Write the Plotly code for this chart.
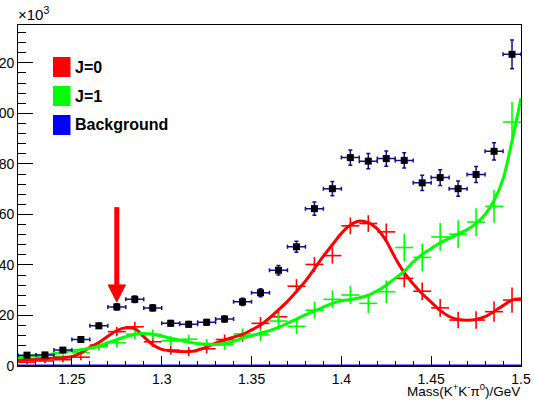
import plotly.graph_objects as go

# ---- data ----
BIN_CENTERS = [round(1.225 + 0.01 * i, 3) for i in range(28)]
BIN_HALF_WIDTH = 0.005

DATA_Y = [4.3, 4.4, 6.3, 10.5, 15.9, 23.4, 26.4, 23.0, 16.9, 16.5, 17.3, 18.6, 25.4, 29.0,
          37.9, 47.2, 62.3, 70.2, 82.5, 81.1, 82.1, 81.4, 72.5, 74.6, 70.2, 75.8, 85.0, 123.4]
DATA_ERR = [0.6, 0.6, 0.7, 0.9, 1.0, 1.2, 1.3, 1.2, 1.1, 1.1, 1.1, 1.2, 1.4, 1.6,
            1.9, 2.2, 2.6, 2.8, 3.0, 3.0, 3.0, 3.0, 3.0, 3.1, 3.0, 3.2, 3.4, 5.7]

J0_Y = [1.5, 2.0, 2.5, 3.5, 8.3, 13.6, 15.5, 9.6, 6.3, 5.7, 6.8, 10.5, 11.8, 16.9,
        19.5, 31.6, 40.2, 43.7, 55.5, 56.4, 53.1, 34.7, 29.6, 23.0, 18.2, 18.2, 21.5, 26.1]
J0_ERR = [0.8, 0.9, 1.0, 1.2, 1.5, 1.8, 2.0, 2.0, 1.8, 1.8, 1.8, 2.0, 2.2, 2.5,
          2.5, 2.8, 3.0, 3.2, 3.3, 3.3, 3.3, 3.5, 3.5, 3.5, 3.3, 3.5, 4.0, 5.0]

J1_Y = [2.8, 3.2, 3.8, 5.3, 7.6, 9.2, 12.6, 12.5, 10.0, 10.6, 8.9, 8.4, 12.7, 12.3,
        17.8, 15.7, 22.1, 26.4, 28.1, 24.8, 29.4, 46.9, 43.0, 51.1, 52.2, 57.0, 63.2, 96.6]
J1_ERR = [0.8, 0.9, 1.0, 1.2, 1.5, 1.8, 2.0, 2.0, 1.8, 1.8, 1.8, 2.0, 2.2, 2.5,
          3.0, 3.0, 3.3, 3.5, 3.5, 3.8, 4.5, 5.5, 5.5, 5.5, 5.5, 5.5, 6.5, 8.0]

CURVE_X = [round(1.22 + 0.005 * i, 3) for i in range(57)]
J0_CURVE = [2.2, 2.4, 2.6, 2.9, 3.1, 3.3, 3.7, 5.2, 7.4, 9.3, 11.8, 14.0, 15.1, 14.8, 11.6,
            8.4, 6.6, 6.0, 5.7, 5.7, 6.3, 7.5, 9.0, 10.3, 11.4, 12.5, 14.3, 16.2, 19.0,
            22.2, 25.6, 29.5, 33.6, 38.5, 43.5, 48.0, 52.5, 55.8, 57.4, 56.8, 54.3, 49.5,
            42.8, 37.0, 32.5, 28.6, 25.3, 22.0, 19.6, 18.4, 18.1, 18.4, 19.5, 21.6,
            23.9, 26.1, 26.6]
J1_CURVE = [3.5, 3.8, 4.1, 4.4, 4.9, 5.5, 6.0, 6.4, 7.0, 7.9, 9.2, 10.5, 11.6, 12.6, 12.9,
            12.6, 11.9, 11.0, 10.2, 9.5, 8.9, 8.5, 8.5, 8.9, 9.8, 11.0, 12.0, 13.0, 14.0,
            15.3, 17.0, 18.6, 20.3, 21.8, 23.3, 24.8, 25.8, 26.3, 27.0, 28.0, 29.8, 32.0,
            34.8, 37.5, 41.2, 44.2, 46.5, 48.8, 50.5, 52.3, 54.0, 56.5, 60.0, 65.5, 74.0,
            89.0, 106.0]
BKG_X = [1.22, 1.50]
BKG_Y = [0.0, 0.0]

ARROW_X = 1.275
ARROW_TOP = 62.9
ARROW_BASE = 32.1
ARROW_TIP = 25.3
ARROW_HALF = 0.0048

LEGEND_LABELS = ["J=0", "J=1", "Background"]
LEGEND_COLORS = ["#ff0000", "#00ff00", "#0000ff"]

X_RANGE = [1.22, 1.50]
Y_RANGE = [0, 135]

# ---- layout geometry (pixels) ----
W, H = 534, 400
L, R, T, B = 18, 13, 25, 34
PW, PH = W - L - R, H - T - B


def px2paper(px, py):
    return (px - L) / PW, 1 - (py - T) / PH


fig = go.Figure()

# red crosses (J=0)
fig.add_trace(go.Scatter(
    x=BIN_CENTERS, y=J0_Y, mode="markers",
    marker=dict(size=1, color="rgba(0,0,0,0)"),
    error_x=dict(type="constant", value=BIN_HALF_WIDTH, color="#ff0000", thickness=1.6, width=0),
    error_y=dict(type="data", array=J0_ERR, color="#ff0000", thickness=1.6, width=0),
))
# green crosses (J=1)
fig.add_trace(go.Scatter(
    x=BIN_CENTERS, y=J1_Y, mode="markers",
    marker=dict(size=1, color="rgba(0,0,0,0)"),
    error_x=dict(type="constant", value=BIN_HALF_WIDTH, color="#00ff00", thickness=1.6, width=0),
    error_y=dict(type="data", array=J1_ERR, color="#00ff00", thickness=1.6, width=0),
))
# fit curves
fig.add_trace(go.Scatter(x=CURVE_X, y=J0_CURVE, mode="lines",
                         line=dict(color="#ff0000", width=3, shape="spline", smoothing=0.8)))
fig.add_trace(go.Scatter(x=CURVE_X, y=J1_CURVE, mode="lines",
                         line=dict(color="#00ff00", width=3, shape="spline", smoothing=0.8)))
fig.add_trace(go.Scatter(x=BKG_X, y=BKG_Y, mode="lines",
                         line=dict(color="#0000ff", width=3), cliponaxis=False))
# data points
fig.add_trace(go.Scatter(
    x=BIN_CENTERS, y=DATA_Y, mode="markers",
    marker=dict(symbol="square", size=7, color="black"),
    error_x=dict(type="constant", value=BIN_HALF_WIDTH, color="#10108f", thickness=1.5, width=2),
    error_y=dict(type="data", array=DATA_ERR, color="#10108f", thickness=1.5, width=2),
))
# arrow
fig.add_trace(go.Scatter(x=[ARROW_X, ARROW_X], y=[ARROW_TOP, ARROW_BASE], mode="lines",
                         line=dict(color="#ff0000", width=5)))
fig.add_trace(go.Scatter(x=[ARROW_X - ARROW_HALF, ARROW_X + ARROW_HALF, ARROW_X, ARROW_X - ARROW_HALF],
                         y=[ARROW_BASE, ARROW_BASE, ARROW_TIP, ARROW_BASE], mode="lines",
                         fill="toself", fillcolor="#ff0000", line=dict(color="#ff0000", width=1)))

# legend (drawn manually)
shapes = []
annotations = []
box_tops = [57, 86, 115]
for lab, col, top in zip(LEGEND_LABELS, LEGEND_COLORS, box_tops):
    x0, y0 = px2paper(53, top + 20)
    x1, y1 = px2paper(70.5, top)
    shapes.append(dict(type="rect", xref="paper", yref="paper", x0=x0, y0=y0, x1=x1, y1=y1,
                       fillcolor=col, line=dict(width=0), layer="above"))
    tx, ty = px2paper(72.5, top + 10)
    annotations.append(dict(text="<b>%s</b>" % lab, xref="paper", yref="paper", x=tx, y=ty,
                            xanchor="left", yanchor="middle", showarrow=False,
                            font=dict(size=16, color="black")))

# x10^3
annotations.append(dict(text="×10<sup>3</sup>", xref="paper", yref="paper", x=0, y=1,
                        xanchor="left", yanchor="bottom", yshift=0, xshift=-2, showarrow=False,
                        font=dict(size=15, color="black")))
# x axis title
tx, ty = px2paper(522, 390)
annotations.append(dict(text="Mass(K<sup>+</sup>K<sup>-</sup>π<sup>0</sup>)/GeV", xref="paper",
                        yref="paper", x=tx, y=ty, xanchor="right", yanchor="middle",
                        showarrow=False, font=dict(size=13.5, color="black")))

axis_common = dict(showgrid=False, zeroline=False, showline=True, linecolor="black", linewidth=1,
                   mirror=True, ticks="inside", tickcolor="black", tickwidth=1,
                   tickfont=dict(size=14, color="black"))

fig.update_layout(
    width=W, height=H,
    margin=dict(l=L, r=R, t=T, b=B, autoexpand=False),
    paper_bgcolor="white", plot_bgcolor="white",
    showlegend=False,
    font=dict(family="Liberation Sans, Arial, sans-serif"),
    xaxis=dict(range=X_RANGE, tick0=1.25, dtick=0.05, ticklen=10,
               minor=dict(dtick=0.01, tick0=1.22, ticklen=5, ticks="inside", tickcolor="black"),
               **axis_common),
    yaxis=dict(range=Y_RANGE, tick0=0, dtick=20, ticklen=15,
               minor=dict(dtick=4, ticklen=8, ticks="inside", tickcolor="black"),
               **axis_common),
    shapes=shapes, annotations=annotations,
)

fig.write_html("out.html", config={"displayModeBar": False},
               post_script="document.body.style.margin='0';document.body.style.overflow='hidden';")
